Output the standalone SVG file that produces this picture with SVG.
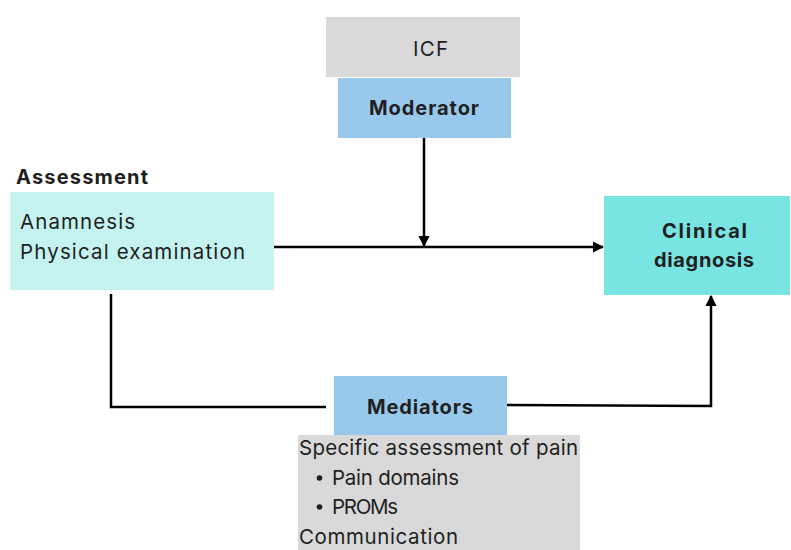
<svg xmlns="http://www.w3.org/2000/svg" width="791" height="550" viewBox="0 0 791 550">
  <defs>
    <marker id="arrow" viewBox="0 0 10 10" refX="9" refY="5" markerWidth="4.5" markerHeight="4.5" orient="auto">
      <path d="M0,0 L10,5 L0,10 z" fill="#000"/>
    </marker>
    <style>
      text { font-family: Inter, Roboto, "Liberation Sans", sans-serif; fill: #1f1f1f; font-size: 20.5px; }
      .bold { font-weight: bold; font-size: 20px; }
      .wire { fill: none; stroke: #000; stroke-width: 2.5; }
    </style>
  </defs>
  <rect width="791" height="550" fill="#fff"/>

  <g id="connectors">
    <line class="wire" x1="274" y1="247" x2="603" y2="247" marker-end="url(#arrow)"/>
    <line class="wire" x1="424" y1="138" x2="424" y2="246" marker-end="url(#arrow)"/>
    <polyline class="wire" points="111,294 111,407 326,407"/>
    <polyline class="wire" points="507,405 711,406 711,296" marker-end="url(#arrow)"/>
  </g>

  <g id="icf">
    <rect x="326" y="17" width="194" height="60" fill="#d9d9d9"/>
    <text x="413" y="56" textLength="35" lengthAdjust="spacing">ICF</text>
  </g>

  <g id="moderator">
    <rect x="338" y="78" width="173" height="60" fill="#98c9ec"/>
    <text class="bold" x="369" y="115" textLength="110" lengthAdjust="spacing">Moderator</text>
  </g>

  <g id="assessment">
    <text class="bold" x="16" y="184" textLength="132" lengthAdjust="spacing">Assessment</text>
    <rect x="10" y="192" width="264" height="98" fill="#c5f3f0"/>
    <text x="20" y="229" textLength="115" lengthAdjust="spacing">Anamnesis</text>
    <text x="20" y="259" textLength="225" lengthAdjust="spacing">Physical examination</text>
  </g>

  <g id="clinical-diagnosis">
    <rect x="604" y="196" width="186" height="99" fill="#79e5e3"/>
    <text class="bold" x="662" y="238" textLength="85" lengthAdjust="spacing">Clinical</text>
    <text class="bold" x="654" y="267" textLength="100" lengthAdjust="spacing">diagnosis</text>
  </g>

  <g id="mediators">
    <rect x="334" y="376" width="173" height="59" fill="#98c9ec"/>
    <text class="bold" x="367" y="414" textLength="106" lengthAdjust="spacing">Mediators</text>
  </g>

  <g id="mediator-details">
    <rect x="298" y="435" width="282" height="115" fill="#d9d9d9"/>
    <text x="299" y="455" textLength="279" lengthAdjust="spacing">Specific assessment of pain</text>
    <circle cx="319.5" cy="478" r="2.8" fill="#1f1f1f"/>
    <text x="332" y="485" textLength="127" lengthAdjust="spacing">Pain domains</text>
    <circle cx="319.5" cy="507" r="2.8" fill="#1f1f1f"/>
    <text x="332" y="514" textLength="66" lengthAdjust="spacing">PROMs</text>
    <text x="299" y="544" textLength="159" lengthAdjust="spacing">Communication</text>
  </g>
</svg>
